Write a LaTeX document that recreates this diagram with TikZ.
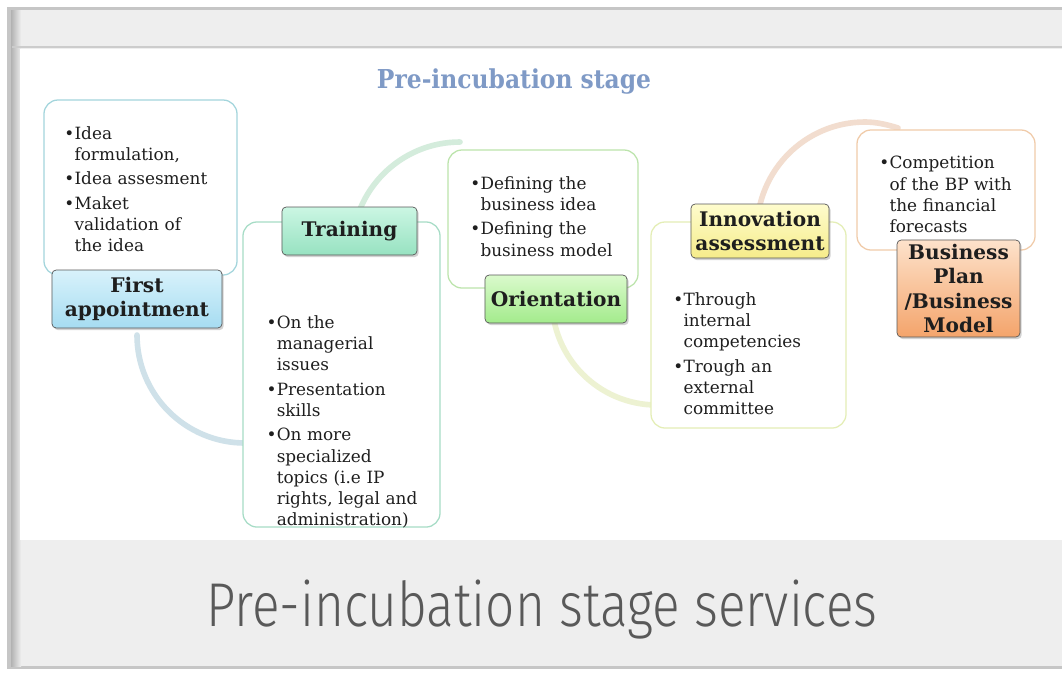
\documentclass[tikz,border=0pt]{standalone}
\usepackage{fontspec}
\setmainfont{DejaVu Serif}
\newfontfamily\condserif{DejaVu Serif Condensed}
\newfontfamily\slidefont[FakeStretch=0.83]{Fira Sans Light}
\usepackage{tikz}
\usetikzlibrary{positioning, shadows}

\definecolor{slidegray}{HTML}{EEEEEE}
\definecolor{titleblue}{HTML}{7F9AC6}
\definecolor{inktext}{HTML}{1E1E1E}
\definecolor{bluebd}{HTML}{A3D5DC}
\definecolor{greenbd}{HTML}{A6DCC6}
\definecolor{limebd}{HTML}{BCE4AC}
\definecolor{yellowbd}{HTML}{E4EEB6}
\definecolor{orangebd}{HTML}{F0CBA9}
\definecolor{bluetop}{HTML}{D8F2FB}\definecolor{bluebot}{HTML}{A6DCF1}
\definecolor{greentop}{HTML}{CBF6E3}\definecolor{greenbot}{HTML}{97E2C1}
\definecolor{limetop}{HTML}{DAFACC}\definecolor{limebot}{HTML}{A3EB8C}
\definecolor{yellowtop}{HTML}{FEFCCD}\definecolor{yellowbot}{HTML}{F6EC8A}
\definecolor{orangetop}{HTML}{FDE2CB}\definecolor{orangebot}{HTML}{F4A46B}
\definecolor{bluering}{HTML}{CFE1E9}
\definecolor{greenring}{HTML}{D4ECDC}
\definecolor{yellowring}{HTML}{EDF2D2}
\definecolor{orangering}{HTML}{F2DDCF}

% bullet item with hanging indent
\newcommand{\bitem}[1]{\hangindent=0.6em\hangafter=1\noindent\makebox[0.6em][l]{\textbullet}#1\par}

\begin{document}
\begin{tikzpicture}[x=0.025cm, y=-0.025cm,
    content/.style={draw=#1, line width=0.9pt, rounded corners=10pt, fill=white, inner sep=0pt},
    label/.style={draw=gray!70!black, line width=0.5pt, rounded corners=3pt, inner sep=0pt,
        align=center, text=inktext, font=\fontsize{14.3}{17.5}\selectfont\bfseries,
        drop shadow={opacity=0.35, shadow xshift=1.2pt, shadow yshift=-1.5pt}},
    items/.style={anchor=north west, inner sep=0pt, text width=4.4cm, align=left, text=inktext,
        font=\fontsize{12}{15}\selectfont, execute at begin node={\setlength{\parskip}{2.5pt}}},
    ring/.style={line width=4pt, line cap=round, draw=#1}
]
    \useasboundingbox (0,0) rectangle (1062,673);

    % slide frame
    \fill[white] (0,0) rectangle (1062,673);
    \fill[gray!45] (7,7) rectangle (1062,669);
    \fill[slidegray] (11,10) rectangle (1062,666);
    \shade[left color=gray!60, right color=slidegray] (11,10) rectangle (21,666);
    \fill[white] (20,49) rectangle (1062,540);
    \draw[gray!40, line width=2pt] (12,47) -- (1062,47);

    \node[font=\condserif\fontsize{18.5}{22}\selectfont\bfseries, text=titleblue, anchor=base] (stage) at (514,88) {Pre-incubation stage};

    % circle pieces behind the boxes
    \draw[ring=bluering] (137,335) .. controls (137,394.6) and (185.4,443) .. (245,443);
    \draw[ring=greenring] (352,250) .. controls (352,190.4) and (400.4,142) .. (460,142);
    \draw[ring=yellowring] (552,300) .. controls (552,358) and (599,405) .. (657,405);
    \draw[ring=orangering] (757,230) .. controls (757,170.4) and (805.4,122) .. (865,122)
        .. controls (876,122) and (887,124.5) .. (898,128);

    % content boxes
    \node[content=bluebd, minimum width=4.825cm, minimum height=4.375cm] (firstbox) at (140.5,187.5) {};
    \node[content=greenbd, minimum width=4.925cm, minimum height=7.625cm] (trainbox) at (341.5,374.5) {};
    \node[content=limebd, minimum width=4.75cm, minimum height=3.45cm] (orientbox) at (543,219) {};
    \node[content=yellowbd, minimum width=4.875cm, minimum height=5.15cm] (innovbox) at (748.5,325) {};
    \node[content=orangebd, minimum width=4.45cm, minimum height=3cm] (planbox) at (946,190) {};

    \node[items] (firsttext) at ([xshift=0.52cm, yshift=-0.67cm]firstbox.north west)
        {\bitem{Idea\newline formulation,}\bitem{Idea assesment}\bitem{Maket\newline validation of\newline the idea}};
    \node[items] (traintext) at ([xshift=0.6cm, yshift=-2.35cm]trainbox.north west)
        {\bitem{On the\newline managerial\newline issues}\bitem{Presentation\newline skills}\bitem{On more\newline specialized\newline topics (i.e IP\newline rights, legal and\newline administration)}};
    \node[items] (orienttext) at ([xshift=0.57cm, yshift=-0.67cm]orientbox.north west)
        {\bitem{Defining the\newline business idea}\bitem{Defining the\newline business model}};
    \node[items] (innovtext) at ([xshift=0.57cm, yshift=-1.77cm]innovbox.north west)
        {\bitem{Through\newline internal\newline competencies}\bitem{Trough an\newline external\newline committee}};
    \node[items] (plantext) at ([xshift=0.57cm, yshift=-0.67cm]planbox.north west)
        {\bitem{Competition\newline of the BP with\newline the financial\newline forecasts}};

    % stage labels
    \node[label, top color=bluetop, bottom color=bluebot, minimum width=4.25cm, minimum height=1.45cm] (first) at (137,299) {First\\appointment};
    \node[label, top color=greentop, bottom color=greenbot, minimum width=3.375cm, minimum height=1.2cm] (train) at (349.5,231) {Training};
    \node[label, top color=limetop, bottom color=limebot, minimum width=3.55cm, minimum height=1.2cm] (orient) at (556,299) {Orientation};
    \node[label, top color=yellowtop, bottom color=yellowbot, minimum width=3.45cm, minimum height=1.35cm] (innov) at (760,231) {Innovation\\assessment};
    \node[label, top color=orangetop, bottom color=orangebot, minimum width=3.075cm, minimum height=2.425cm] (plan) at (958.5,288.5) {Business\\Plan\\/Business\\Model};

    \node[font=\slidefont\fontsize{44}{50}\selectfont, text=black!65, anchor=base] (services) at (542,626) {Pre-incubation stage services};
\end{tikzpicture}
\end{document}
